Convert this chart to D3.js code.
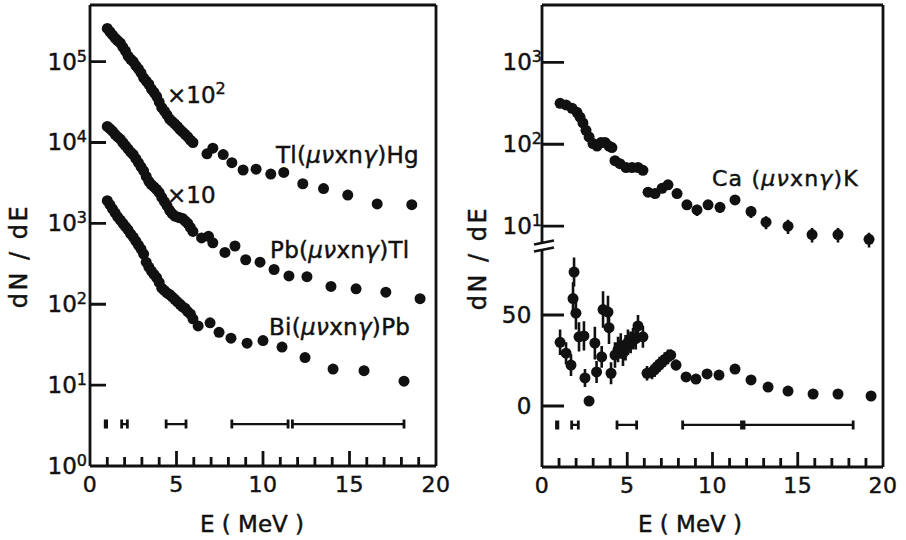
<!DOCTYPE html>
<html>
<head>
<meta charset="utf-8">
<script src="https://cdn.jsdelivr.net/npm/d3@7"></script>
<style>
  html, body { margin: 0; padding: 0; background: #fff; }
  svg { display: block; }
  text { font-family: "DejaVu Sans", sans-serif; fill: #111; stroke: #111; stroke-width: 0.45px; }
</style>
</head>
<body>
<svg id="chart" width="906" height="540"></svg>
<script>
// ---- data -------------------------------------------------------------
// Tl(mu nu x n gamma)Hg, plotted ×10^2
const tlE = [1.0,1.15,1.3,1.45,1.6,1.75,1.9,2.05,2.2,2.35,2.5,2.65,2.8,2.95,3.1,3.25,3.4,3.55,3.7,3.85,4.0,4.15,4.3,4.45,4.6,4.75,4.9,5.05,5.2,5.35,5.5,5.65,5.8,5.95,6.76,7.1,7.7,8.2,8.85,9.6,10.45,11.2,12.3,13.5,14.9,16.6,18.6];
const tlVal = [257000,234000,214000,195000,182000,170000,151000,135000,117000,107000,100000,89100,81300,72400,63100,57500,52500,45700,41700,37200,31600,26900,24500,21900,19500,18200,17000,15800,14500,13500,12600,11700,10700,10000,7240,8510,7080,5620,4570,4680,4070,4270,3090,2690,2240,1740,1700];

// Pb(mu nu x n gamma)Tl, plotted ×10
const pbE = [1.0,1.15,1.3,1.45,1.6,1.75,1.9,2.05,2.2,2.35,2.5,2.65,2.8,2.95,3.1,3.25,3.4,3.55,3.7,3.85,4.0,4.15,4.3,4.45,4.6,4.75,4.9,5.05,5.2,5.35,5.5,5.65,5.8,5.95,6.45,6.85,7.1,7.8,8.38,9.0,9.83,10.64,11.5,12.54,13.93,15.38,17.1,19.08];
const pbVal = [15800,14800,13800,12600,11700,11000,10000,9120,8320,7590,7080,6310,5620,5010,4470,3800,3310,3020,2820,2630,2400,2090,1860,1660,1450,1320,1230,1200,1170,1150,1070,1000,891,794,661,692,575,437,525,355,331,269,224,219,166,155,141,117];

// Bi(mu nu x n gamma)Pb
const biE = [1.0,1.15,1.3,1.45,1.6,1.75,1.9,2.05,2.2,2.35,2.5,2.65,2.8,2.95,3.1,3.25,3.4,3.55,3.7,3.85,4.0,4.15,4.3,4.45,4.6,4.75,4.9,5.05,5.2,5.35,5.5,5.65,5.8,5.95,6.25,6.94,7.46,8.15,9.08,10.0,11.1,12.43,14.05,15.84,18.15];
const biVal = [1910,1700,1510,1350,1200,1100,1000,912,832,741,676,603,537,479,417,331,288,257,234,214,186,158,148,138,132,123,115,107,100,93,89,81,76,66,54,59,45,38,33,35.5,29.5,21.9,15.8,15.1,11.2];

// Ca(mu nu x n gamma)K, logarithmic part
const caLogE = [1.06,1.41,1.76,2.05,2.23,2.40,2.58,2.76,2.99,3.23,3.46,3.70,3.93,4.10,4.28,4.57,4.93,5.28,5.63,5.92,6.22,6.63,7.04,7.39,7.92,8.5,9.09,9.74,10.44,11.32,12.26,13.14,14.43,15.84,17.36,19.18];
const caLogVal = [316,302,275,245,214,182,148,123,102,95,105,105,95,91,63,58,52,52,52,48,26,25,29,32,25,18.2,15.8,18.2,17,20.9,15.1,11.2,10,7.9,7.9,6.9];
const caLogErr = [0,0,0,0,0,0,0,0,0,0,0,0,0,0,0,0,0,0,0,0,0,0,0,0,0,2,2.5,2.5,2.5,2.5,2.5,2,2,1.6,1.6,1.4];

// Ca(mu nu x n gamma)K, linear part
const caLinE = [1.06,1.41,1.70,1.82,1.88,1.99,2.17,2.46,2.52,2.76,3.10,3.20,3.50,3.58,3.87,3.93,4.05,4.28,4.46,4.62,4.75,4.90,5.04,5.20,5.34,5.50,5.63,5.92,6.16,6.45,6.60,6.74,6.90,7.04,7.20,7.39,7.55,7.86,8.45,9.03,9.68,10.38,11.32,12.26,13.26,14.43,15.9,17.36,19.3];
const caLinVal = [35,29,22.5,59,73.6,51,38,38.5,15.4,2.7,34.6,18.7,27,53,51.6,43,18,28,31,33,29,32,35,35,37,37,44,38,18,18.7,20,21.4,23,24,25.5,27,28,22.5,16,14.8,17.6,17,20.3,14.3,10.4,8.2,6.6,6.6,5.5];
const caLinErr = [7,6,6,9,8,9,8,8,5,0,9,6,6,10,9,9,6,7,7,7,7,7,7,6,6,6,6,6,4,4,4,4,4,4,4,4,3,3,2,2,2,2,2,2,2,2,2,2,2];

// energy resolution intervals (MeV)
const resLeft = [[0.88,0.96],[1.83,2.16],[4.4,5.55],[8.2,11.45],[11.7,18.15]];
const resRight = [[0.85,0.93],[1.74,2.13],[4.4,5.55],[8.25,11.7],[11.85,18.25]];
const resLeftLevel = 3.3;
const resRightLevel = -10.4;

// ticks and labels
const xMajorTicks = [0,5,10,15,20];
const xMinorTicks = d3.range(1,20);
const leftDecades = [0,1,2,3,4,5];
const rightDecades = [1,2,3];
const rightLinTicks = [0,50];
const seriesLabels = ["Tl(μνxnγ)Hg","Pb(μνxnγ)Tl","Bi(μνxnγ)Pb","Ca (μνxnγ)K"];
const scaleNotes = ["×10","×10"];
const xTitle = "E ( MeV )";
const yTitle = "dN / dE";

// ---- scales -----------------------------------------------------------
const lx = d3.scaleLinear([0,20],[90,436]);
const ly = d3.scaleLog([1, Math.pow(10,5.7)],[466,5]);
const rx = d3.scaleLinear([0,20],[542,883]);
const ryLog = d3.scaleLog([Math.pow(10,0.77), Math.pow(10,3.7)],[245,5]);
const ryLin = d3.scaleLinear([-33.5, 85.7],[467,250]);

const svg = d3.select("#chart");
const INK = "#111";
const R = 5.5;

// separate layers: line work and marks, then all text on top
const lineLayer = svg.append("g").attr("class", "lines");
const markLayer = svg.append("g").attr("class", "marks");
const textLayer = svg.append("g").attr("class", "labels");

// ---- helpers ----------------------------------------------------------
// draws a set of straight strokes as one path
function strokes(g, segs, w) {
  const p = d3.path();
  segs.forEach(([x1, y1, x2, y2]) => { p.moveTo(x1, y1); p.lineTo(x2, y2); });
  g.append("path").attr("d", p.toString())
    .attr("fill", "none").attr("stroke", INK).attr("stroke-width", w);
}

// bottom axis: minor ticks every MeV, longer ticks and labels every 5 MeV
function xAxis(x, yBottom) {
  strokes(lineLayer, xMinorTicks.map(v => [x(v), yBottom, x(v), yBottom - (v % 5 === 0 ? 15 : 9)]), 2.8);
  xMajorTicks.forEach(d => {
    textLayer.append("text").attr("x", x(d)).attr("y", yBottom + 26)
      .attr("text-anchor", "middle").attr("font-size", 22).attr("letter-spacing", "0.5px")
      .text(d3.format("d")(d));
  });
}

// left axis with 10^n labels
function logAxis(y, xLeft, exps, tickLen, pad, skipFirst) {
  strokes(lineLayer, exps.filter((e, i) => !(skipFirst && i === 0))
    .map(e => [xLeft, y(Math.pow(10, e)), xLeft + tickLen, y(Math.pow(10, e))]), 2.8);
  exps.forEach(e => {
    const yy = y(Math.pow(10, e));
    const t = textLayer.append("text").attr("x", xLeft - pad).attr("y", yy + 8)
      .attr("text-anchor", "end").attr("font-size", 23);
    t.append("tspan").text("10");
    t.append("tspan").attr("dy", -8).attr("font-size", 16).text(e);
  });
}

function dots(xs, ys, xScale, yScale) {
  xs.forEach((d, i) => {
    markLayer.append("circle").attr("cx", xScale(d)).attr("cy", yScale(ys[i]))
      .attr("r", R).attr("fill", INK);
  });
}

function errBars(xs, ys, es, xScale, yScale) {
  strokes(markLayer, xs.map((d, i) => i).filter(i => es[i] > 0)
    .map(i => [xScale(xs[i]), yScale(ys[i] - es[i]), xScale(xs[i]), yScale(ys[i] + es[i])]), 2.6);
}

function resolutionBars(intervals, level, xScale, yScale) {
  const y = yScale(level);
  strokes(markLayer, intervals.map(([a, b]) => [xScale(a), y, xScale(b), y]), 2.2);
  strokes(markLayer, intervals.flatMap(([a, b]) => [[xScale(a), y - 4.5, xScale(a), y + 4.5], [xScale(b), y - 4.5, xScale(b), y + 4.5]]), 2.8);
}

function seriesLabel(txt, x, y, size, spacing) {
  const t = textLayer.append("text").attr("x", x).attr("y", y).attr("font-size", size)
    .attr("letter-spacing", spacing);
  const m = txt.match(/^(.*?\()(.*)(\).*)$/);
  t.append("tspan").text(m[1]);
  m[2].split(/(xn)/).forEach(p => {
    if (!p) return;
    t.append("tspan").attr("font-style", p === "xn" ? "normal" : "italic").text(p);
  });
  t.append("tspan").text(m[3]);
}

// ---- left panel -------------------------------------------------------
const lL = lx(0), lR = lx(20), lT = 5, lB = 466;
strokes(lineLayer, [[lL, lT, lR, lT], [lR, lT, lR, lB], [lR, lB, lL, lB], [lL, lB, lL, lT]], 2.8);

xAxis(lx, lB);
logAxis(ly, lL, leftDecades, 16, 3, true);

dots(tlE, tlVal, lx, ly);
dots(pbE, pbVal, lx, ly);
dots(biE, biVal, lx, ly);
resolutionBars(resLeft, resLeftLevel, lx, ly);

// scale-factor notes
const n1 = textLayer.append("text").attr("x", 167).attr("y", 103).attr("font-size", 23);
n1.append("tspan").text(scaleNotes[0]);
n1.append("tspan").attr("dy", -9).attr("font-size", 16).text("2");
textLayer.append("text").attr("x", 167).attr("y", 203).attr("font-size", 23).text(scaleNotes[1]);

seriesLabel(seriesLabels[0], 276, 163, 23, "0.3px");
seriesLabel(seriesLabels[1], 270, 258, 23, "0.3px");
seriesLabel(seriesLabels[2], 269, 335, 23, "0.3px");

textLayer.append("text").attr("x", 252).attr("y", 532).attr("font-size", 23)
  .attr("text-anchor", "middle").text(xTitle);
textLayer.append("text").attr("transform", "translate(27,256) rotate(-90)").attr("font-size", 24)
  .attr("text-anchor", "middle").attr("letter-spacing", "2.5px").text(yTitle);

// ---- right panel ------------------------------------------------------
const rL = rx(0), rR = rx(20), rT = 5, rB = 467;
strokes(lineLayer, [[rL, rT, rR, rT], [rR, rT, rR, rB], [rR, rB, rL, rB], [rL, rT, rL, 242.5], [rL, 249.5, rL, rB]], 2.8);
// axis break marks
strokes(lineLayer, [[rL - 8, 244.5, rL + 12, 240.5], [rL - 8, 251.5, rL + 12, 247.5]], 2.4);

xAxis(rx, rB);
logAxis(ryLog, rL, rightDecades, 22, 0, false);

strokes(lineLayer, rightLinTicks.map(v => [rL, ryLin(v), rL + 22, ryLin(v)]), 2.8);
rightLinTicks.forEach(v => {
  textLayer.append("text").attr("x", rL - 10).attr("y", ryLin(v) + 8)
    .attr("text-anchor", "end").attr("font-size", 23).attr("letter-spacing", "0.5px").text(v);
});

errBars(caLogE, caLogVal, caLogErr, rx, ryLog);
dots(caLogE, caLogVal, rx, ryLog);
errBars(caLinE, caLinVal, caLinErr, rx, ryLin);
dots(caLinE, caLinVal, rx, ryLin);
resolutionBars(resRight, resRightLevel, rx, ryLin);

seriesLabel(seriesLabels[3], 712, 186, 22, "1.2px");

textLayer.append("text").attr("x", 690).attr("y", 532).attr("font-size", 23)
  .attr("text-anchor", "middle").text(xTitle);
textLayer.append("text").attr("transform", "translate(486,258) rotate(-90)").attr("font-size", 24)
  .attr("text-anchor", "middle").attr("letter-spacing", "2.5px").text(yTitle);
</script>
</body>
</html>
